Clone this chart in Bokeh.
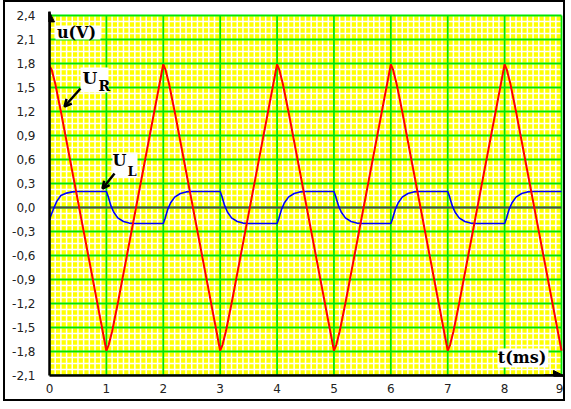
import numpy as np
from bokeh.plotting import figure
from bokeh.models import FixedTicker, Arrow, NormalHead, OpenHead, Label, BoxAnnotation
from bokeh.embed import file_html
from bokeh.resources import INLINE

# ---------------- data ----------------
x_ticks = [0, 1, 2, 3, 4, 5, 6, 7, 8, 9]
x_tick_labels = ["0", "1", "2", "3", "4", "5", "6", "7", "8", "9"]
y_ticks = [-2.1, -1.8, -1.5, -1.2, -0.9, -0.6, -0.3, 0.0,
           0.3, 0.6, 0.9, 1.2, 1.5, 1.8, 2.1, 2.4]
y_tick_labels = ["-2,1", "-1,8", "-1,5", "-1,2", "-0,9", "-0,6", "-0,3", "0,0",
                 "0,3", "0,6", "0,9", "1,2", "1,5", "1,8", "2,1", "2,4"]

# U_R (red) : t in ms, value in V
UR_t = [0.00, 0.04, 0.10, 0.20,
        1.00, 1.04, 1.10, 1.20,
        2.00, 2.04, 2.10, 2.20,
        3.00, 3.04, 3.10, 3.20,
        4.00, 4.04, 4.10, 4.20,
        5.00, 5.04, 5.10, 5.20,
        6.00, 6.04, 6.10, 6.20,
        7.00, 7.04, 7.10, 7.20,
        8.00, 8.04, 8.10, 8.20,
        9.00]
UR_v = [1.77, 1.72, 1.55, 1.20,
        -1.79, -1.72, -1.55, -1.20,
        1.79, 1.72, 1.55, 1.20,
        -1.79, -1.72, -1.55, -1.20,
        1.79, 1.72, 1.55, 1.20,
        -1.79, -1.72, -1.55, -1.20,
        1.79, 1.72, 1.55, 1.20,
        -1.79, -1.72, -1.55, -1.20,
        1.79, 1.72, 1.55, 1.20,
        -1.79]

# U_L (blue)
UL_t = [0.00, 0.03, 0.08, 0.13, 0.20, 0.30, 0.40, 0.50,
        1.00, 1.03, 1.08, 1.13, 1.20, 1.30, 1.40, 1.50,
        2.00, 2.03, 2.08, 2.13, 2.20, 2.30, 2.40, 2.50,
        3.00, 3.03, 3.08, 3.13, 3.20, 3.30, 3.40, 3.50,
        4.00, 4.03, 4.08, 4.13, 4.20, 4.30, 4.40, 4.50,
        5.00, 5.03, 5.08, 5.13, 5.20, 5.30, 5.40, 5.50,
        6.00, 6.03, 6.08, 6.13, 6.20, 6.30, 6.40, 6.50,
        7.00, 7.03, 7.08, 7.13, 7.20, 7.30, 7.40, 7.50,
        8.00, 8.03, 8.08, 8.13, 8.20, 8.30, 8.40, 8.50,
        9.00]
UL_v = [-0.15, -0.09, 0.00, 0.08, 0.15, 0.18, 0.195, 0.20,
        0.20, 0.14, 0.02, -0.06, -0.13, -0.175, -0.195, -0.20,
        -0.20, -0.14, -0.02, 0.06, 0.13, 0.175, 0.195, 0.20,
        0.20, 0.14, 0.02, -0.06, -0.13, -0.175, -0.195, -0.20,
        -0.20, -0.14, -0.02, 0.06, 0.13, 0.175, 0.195, 0.20,
        0.20, 0.14, 0.02, -0.06, -0.13, -0.175, -0.195, -0.20,
        -0.20, -0.14, -0.02, 0.06, 0.13, 0.175, 0.195, 0.20,
        0.20, 0.14, 0.02, -0.06, -0.13, -0.175, -0.195, -0.20,
        -0.20, -0.14, -0.02, 0.06, 0.13, 0.175, 0.195, 0.20,
        0.20]

x_minor_step = 0.1
y_minor_step = 0.075

# ---------------- figure ----------------
x_lo, x_hi = x_ticks[0], x_ticks[-1]
y_lo, y_hi = y_ticks[0], y_ticks[-1]

p = figure(width=562, height=401, output_backend="svg", toolbar_location=None,
           x_range=(x_lo, 9.07), y_range=(y_lo, 2.45),
           min_border_left=44, min_border_right=2, min_border_top=9, min_border_bottom=28)
p.styles = {"border": "2px solid black", "margin-left": "3px"}
p.background_fill_color = "white"
p.border_fill_color = "white"
p.outline_line_color = None
p.xgrid.visible = False
p.ygrid.visible = False

# yellow paper
p.quad(left=x_lo, right=x_hi, bottom=y_lo, top=y_hi, fill_color="#ffff00", line_color=None)

# fine white grid
xs_minor = np.round(np.arange(x_lo, x_hi + 1e-9, x_minor_step), 4)
ys_minor = np.round(np.arange(y_lo, y_hi + 1e-9, y_minor_step), 4)
p.segment(x0=xs_minor, y0=y_lo, x1=xs_minor, y1=y_hi, line_color="white", line_width=1.5)
p.segment(x0=x_lo, y0=ys_minor, x1=x_hi, y1=ys_minor, line_color="white", line_width=1.5)

# green major grid
p.segment(x0=x_ticks, y0=y_lo, x1=x_ticks, y1=y_hi, line_color="#00e600", line_width=1.8)
p.segment(x0=x_lo, y0=y_ticks, x1=x_hi, y1=y_ticks, line_color="#00e600", line_width=1.8)

# zero line
p.segment(x0=[x_lo], y0=[0.0], x1=[x_hi], y1=[0.0], line_color="#505050", line_width=2)

# curves
p.line(UL_t, UL_v, line_color="#0000ff", line_width=1.6)
p.line(UR_t, UR_v, line_color="#ff0000", line_width=2)

# axes
for ax in (p.xaxis, p.yaxis):
    ax.axis_line_color = "black"
    ax.axis_line_width = 2.5
    ax.major_tick_line_color = None
    ax.minor_tick_line_color = None
    ax.major_tick_in = 0
    ax.major_tick_out = 0
    ax.major_label_text_font = "DejaVu Sans"
    ax.major_label_text_font_size = "12px"
    ax.major_label_text_color = "#222222"

p.xaxis.ticker = FixedTicker(ticks=x_ticks)
p.xaxis.major_label_overrides = {t: s for t, s in zip(x_ticks, x_tick_labels)}
p.xaxis.major_label_standoff = 8
p.yaxis.ticker = FixedTicker(ticks=y_ticks)
p.yaxis.major_label_overrides = {t: s for t, s in zip(y_ticks, y_tick_labels)}
p.yaxis.major_label_standoff = 14

# axis arrows
p.add_layout(Arrow(end=NormalHead(size=10, fill_color="black", line_color="black"),
                   x_start=0, y_start=2.2, x_end=0, y_end=2.445,
                   line_color="black", line_width=2.5))
p.add_layout(Arrow(end=NormalHead(size=10, fill_color="black", line_color="black"),
                   x_start=8.7, y_start=-2.1, x_end=9.035, y_end=-2.1,
                   line_color="black", line_width=2.5))

# white label boxes
for (l, r, t, b) in [(0.105, 0.896, 2.275, 2.10),
                     (7.875, 8.771, -1.7625, -2.0),
                     (0.545, 1.037, 1.75, 1.4375),
                     (1.107, 1.547, 0.6875, 0.375)]:
    p.add_layout(BoxAnnotation(left=l, right=r, top=t, bottom=b,
                               fill_color="white", fill_alpha=1.0, line_color=None))

def lab(x, y, text, size):
    p.add_layout(Label(x=x, y=y, text=text, text_font="DejaVu Serif",
                       text_font_style="bold", text_font_size=size,
                       text_baseline="middle", text_align="left", text_color="black"))

lab(0.13, 2.19, "u(V)", "16px")
lab(7.88, -1.875, "t(ms)", "16px")
lab(0.58, 1.62, "U", "17px")
lab(0.86, 1.525, "R", "14px")
lab(1.107, 0.59, "U", "16px")
lab(1.37, 0.45, "L", "13px")

# pointer arrows
p.add_layout(Arrow(end=OpenHead(size=7, line_width=2.5, line_color="black"),
                   x_start=0.545, y_start=1.4875, x_end=0.264, y_end=1.2625,
                   line_color="black", line_width=2.5))
p.add_layout(Arrow(end=OpenHead(size=7, line_width=2.5, line_color="black"),
                   x_start=1.143, y_start=0.425, x_end=0.932, y_end=0.2375,
                   line_color="black", line_width=2.5))

open("out.html", "w").write(file_html(p, INLINE))
